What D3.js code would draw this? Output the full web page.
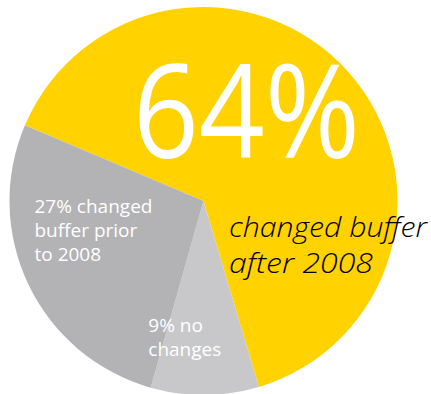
<!DOCTYPE html>
<html>
<head>
<meta charset="utf-8">
<script src="https://cdn.jsdelivr.net/npm/d3@7"></script>
<style>
  html, body { margin: 0; padding: 0; background: #ffffff; }
  svg { display: block; }
</style>
</head>
<body>
<svg id="chart" width="431" height="394"></svg>
<script>
// Survey shares: when the buffer was changed
const categories = ["changed buffer after 2008", "no changes", "changed buffer prior to 2008"];
const shares = [64, 9, 27];
const sliceColors = ["#ffd200", "#c8c8ca", "#b3b3b5"];
const headline = "64%";
const headlineCaption = ["changed buffer", "after 2008"];
const priorLabel = ["27% changed", "buffer prior", "to 2008"];
const noChangeLabel = ["9% no", "changes"];

const svg = d3.select("#chart");
const cx = 203.5, cy = 201, radius = 194;

// First slice begins on the upper left and runs clockwise
const start = 293 * Math.PI / 180;
const pie = d3.pie().sort(null).value(d => d.value)
  .startAngle(start).endAngle(start + 2 * Math.PI);
const arc = d3.arc().innerRadius(0).outerRadius(radius);

const data = categories.map((c, i) => ({ name: c, value: shares[i], color: sliceColors[i] }));

const g = svg.append("g").attr("transform", `translate(${cx},${cy})`);

g.selectAll("path.slice")
  .data(pie(data))
  .join("path")
  .attr("class", "slice")
  .attr("d", arc)
  .attr("fill", d => d.data.color);

// Large headline figure
g.append("text")
  .attr("x", 133 - cx)
  .attr("y", 158 - cy)
  .attr("font-family", "'Open Sans', sans-serif")
  .attr("font-weight", 400)
  .attr("font-size", 130)
  .attr("fill", "#ffffff")
  .attr("textLength", 227)
  .attr("lengthAdjust", "spacingAndGlyphs")
  .text(headline);

// Italic caption beside the headline
const captionWidths = [198, 144];
const cap = g.append("text")
  .attr("font-family", "'Open Sans', sans-serif")
  .attr("font-style", "italic")
  .attr("font-weight", 300)
  .attr("font-size", 28)
  .attr("fill", "#000000");
cap.selectAll("tspan")
  .data(headlineCaption)
  .join("tspan")
  .attr("x", 229 - cx)
  .attr("y", (d, i) => 236.5 - cy + i * 36.5)
  .attr("textLength", (d, i) => captionWidths[i])
  .attr("lengthAdjust", "spacingAndGlyphs")
  .text(d => d);

function multiline(lines, x, y, step) {
  const t = g.append("text")
    .attr("font-family", "'Open Sans', sans-serif")
    .attr("font-weight", 400)
    .attr("font-size", 19)
    .attr("fill", "#ffffff");
  t.selectAll("tspan")
    .data(lines)
    .join("tspan")
    .attr("x", x - cx)
    .attr("y", (d, i) => y - cy + i * step)
    .text(d => d);
}

multiline(priorLabel, 34.5, 213.3, 23.7);
multiline(noChangeLabel, 148.3, 332.3, 23.7);
</script>
</body>
</html>
